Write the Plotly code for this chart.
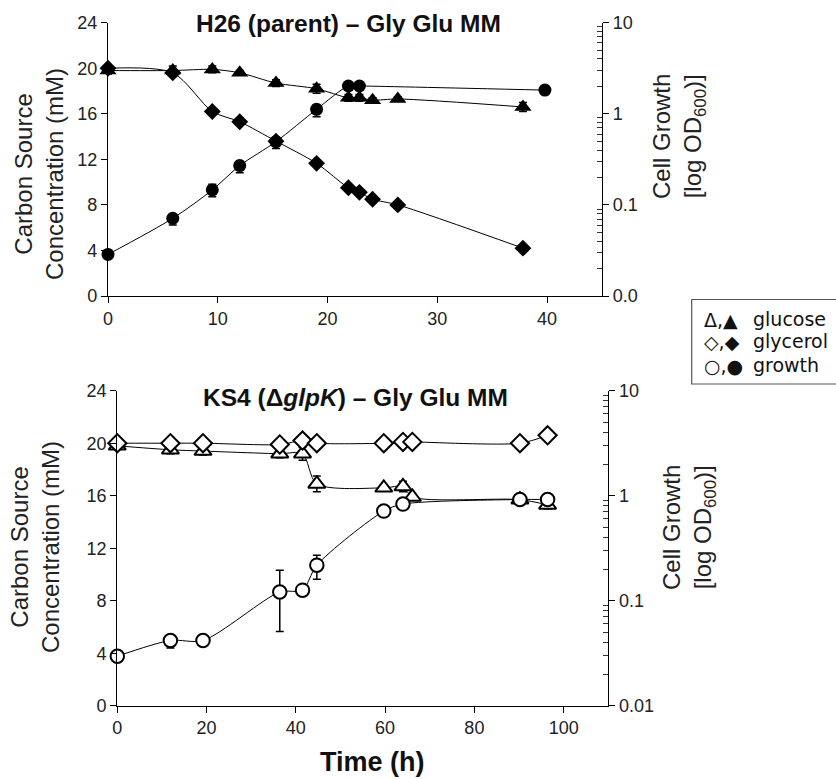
import plotly.graph_objects as go

W, H = 836, 779

# ---------------- data: top panel (H26 parent) ----------------
t_top = [0, 5.9, 9.5, 12.0, 15.3, 19.0, 21.9, 22.9, 24.1, 26.4, 37.8]
glc_top = [19.8, 19.8, 19.9, 19.6, 18.7, 18.2, 17.4, 17.4, 17.2, 17.3, 16.6]
glc_top_err = [0.3, 0.4, 0.3, 0.2, 0.3, 0.4, 0.3, 0.3, 0.2, 0.2, 0.4]
gly_top = [20.0, 19.6, 16.2, 15.3, 13.6, 11.65, 9.5, 9.1, 8.5, 8.0, 4.2]
gly_top_err = [0.2, 0.2, 0.2, 0.2, 0.2, 0.2, 0.2, 0.2, 0.2, 0.2, 0.2]
t_top_od = [0, 5.9, 9.5, 12.0, 15.3, 19.0, 21.9, 22.9, 39.8]
od_top = [0.0286, 0.0713, 0.146, 0.270, 0.494, 1.12, 2.02, 2.02, 1.82]
od_top_plus = [0.002, 0.006, 0.022, 0.03, 0.05, 0.12, 0.1, 0.1, 0.1]
od_top_minus = [0.002, 0.011, 0.023, 0.044, 0.079, 0.19, 0.1, 0.1, 0.1]

# ---------------- data: bottom panel (KS4 glpK) ----------------
t_bot = [0, 11.9, 19.2, 36.4, 41.5, 44.7, 59.7, 64.0, 66.1, 90.2, 96.4]
gly_bot = [20.0, 20.0, 20.0, 19.9, 20.2, 20.0, 20.0, 20.1, 20.1, 20.0, 20.6]
gly_bot_err = [0.1, 0.4, 0.4, 0.2, 0.4, 0.2, 0.1, 0.1, 0.1, 0.2, 0.1]
glc_bot = [19.8, 19.5, 19.4, 19.2, 19.2, 16.9, 16.6, 16.7, 15.9, 15.7, 15.3]
glc_bot_err = [0.1, 0.3, 0.3, 0.3, 0.5, 0.6, 0.2, 0.4, 0.2, 0.3, 0.3]
t_bot_od = [0, 11.9, 19.2, 36.4, 41.5, 44.7, 59.7, 64.0, 90.2, 96.4]
od_bot = [0.0296, 0.0418, 0.0418, 0.121, 0.126, 0.218, 0.714, 0.832, 0.92, 0.92]
od_bot_plus = [0.001, 0.0055, 0.002, 0.074, 0.008, 0.053, 0.02, 0.03, 0.08, 0.08]
od_bot_minus = [0.001, 0.0063, 0.002, 0.070, 0.008, 0.058, 0.02, 0.03, 0.08, 0.08]

top_xticks = [0, 10, 20, 30, 40]
bot_xticks = [0, 20, 40, 60, 80, 100]
conc_ticks = [0, 4, 8, 12, 16, 20, 24]
od_tickvals = [0.01, 0.1, 1, 10]
od_minor_ticks = [0.02, 0.03, 0.04, 0.05, 0.06, 0.07, 0.08, 0.09,
                  0.2, 0.3, 0.4, 0.5, 0.6, 0.7, 0.8, 0.9,
                  2, 3, 4, 5, 6, 7, 8, 9]
top_od_ticktext = ["0.0", "0.1", "1", "10"]
bot_od_ticktext = ["0.01", "0.1", "1", "10"]

legend_symbols = ["Δ,▲", "◇,◆", "○,●"]
legend_words = ["glucose", "glycerol", "growth"]

FONT = "Liberation Sans, Arial, sans-serif"
LINE = dict(color="black", width=1, shape="spline", smoothing=0.8)


def px(x):
    return x / W


def py(y):
    return 1 - y / H


def err(arr, minus=None):
    d = dict(type="data", array=arr, color="black", thickness=1.5, width=4, visible=True)
    if minus is not None:
        d["symmetric"] = False
        d["arrayminus"] = minus
    return d


fig = go.Figure()

# top panel
fig.add_trace(go.Scatter(x=t_top, y=gly_top, xaxis="x", yaxis="y", mode="lines+markers",
                         line=LINE, error_y=err(gly_top_err), cliponaxis=False,
                         marker=dict(symbol="diamond", size=13, color="black")))
fig.add_trace(go.Scatter(x=t_top, y=glc_top, xaxis="x", yaxis="y", mode="lines+markers",
                         line=LINE, error_y=err(glc_top_err), cliponaxis=False,
                         marker=dict(symbol="triangle-up", size=15, color="black")))
fig.add_trace(go.Scatter(x=t_top_od, y=od_top, xaxis="x", yaxis="y2", mode="lines+markers",
                         line=LINE, error_y=err(od_top_plus, od_top_minus), cliponaxis=False,
                         marker=dict(symbol="circle", size=13, color="black")))

# bottom panel
OPEN = dict(color="white", line=dict(color="black", width=2))
fig.add_trace(go.Scatter(x=t_bot, y=glc_bot, xaxis="x2", yaxis="y3", mode="lines+markers",
                         line=LINE, error_y=err(glc_bot_err), cliponaxis=False,
                         marker=dict(symbol="triangle-up", size=15, **OPEN)))
fig.add_trace(go.Scatter(x=t_bot, y=gly_bot, xaxis="x2", yaxis="y3", mode="lines+markers",
                         line=LINE, error_y=err(gly_bot_err), cliponaxis=False,
                         marker=dict(symbol="diamond", size=14, **OPEN)))
fig.add_trace(go.Scatter(x=t_bot_od, y=od_bot, xaxis="x2", yaxis="y4", mode="lines+markers",
                         line=LINE, error_y=err(od_bot_plus, od_bot_minus), cliponaxis=False,
                         marker=dict(symbol="circle", size=13.5, **OPEN)))

ax_common = dict(showgrid=False, zeroline=False, showline=True, linecolor="black", linewidth=1.3,
                 ticks="outside", ticklen=6, tickwidth=1.3, tickcolor="black", automargin=False,
                 tickfont=dict(family=FONT, size=18, color="#222"))

minor_cfg = dict(tickmode="array", tickvals=od_minor_ticks, ticks="inside", ticklen=5,
                 tickwidth=1, tickcolor="#333", showgrid=False)

top_x = [px(108), px(602)]
top_y = [py(296), py(22.7)]
bot_x = [px(117.3), px(608.3)]
bot_y = [py(705.7), py(390.7)]

fig.update_layout(
    width=W, height=H,
    margin=dict(l=0, r=0, t=0, b=0, pad=0, autoexpand=False),
    paper_bgcolor="white", plot_bgcolor="white",
    showlegend=False,
    xaxis=dict(domain=top_x, range=[0, 45], anchor="y", tickvals=top_xticks, **ax_common),
    yaxis=dict(domain=top_y, range=[0, 24], anchor="x", tickvals=conc_ticks, **ax_common),
    yaxis2=dict(overlaying="y", side="right", anchor="x", type="log", range=[-2, 1],
                tickvals=od_tickvals, ticktext=top_od_ticktext, minor=minor_cfg, **ax_common),
    xaxis2=dict(domain=bot_x, range=[0, 110], anchor="y3", tickvals=bot_xticks, **ax_common),
    yaxis3=dict(domain=bot_y, range=[0, 24], anchor="x2", tickvals=conc_ticks, **ax_common),
    yaxis4=dict(overlaying="y3", side="right", anchor="x2", type="log", range=[-2, 1],
                tickvals=od_tickvals, ticktext=bot_od_ticktext, minor=minor_cfg, **ax_common),
)

ann = []


def a(text, x, y, size, angle=0, xanchor="center", align="center", family=FONT, color="#222"):
    ann.append(dict(text=text, x=px(x), y=py(y), xref="paper", yref="paper", showarrow=False,
                    textangle=angle, xanchor=xanchor, yanchor="middle", align=align,
                    font=dict(family=family, size=size, color=color)))


a("<b>H26 (parent) – Gly Glu MM</b>", 348, 24, 24.5, color="#111")
a("<b>KS4 (Δ<i>glpK</i>) – Gly Glu MM</b>", 355, 397, 24.5, color="#111")
a("Carbon Source<br>Concentration (mM)", 39, 174, 24, angle=-90)
a("Carbon Source<br>Concentration (mM)", 35, 547, 24, angle=-90)
a("Cell Growth<br>[log OD<sub>600</sub>)]", 679, 137, 24, angle=-90)
a("Cell Growth<br>[log OD<sub>600</sub>)]", 689, 528, 24, angle=-90)
a("<b>Time (h)</b>", 372, 762, 27, color="#111")

leg_y = [320, 342, 366]
for sym, word, yy in zip(legend_symbols, legend_words, leg_y):
    a(sym, 702, yy, 19, xanchor="left", align="left", family="DejaVu Sans, sans-serif", color="#111")
    a(word, 751, yy - 1, 19, xanchor="left", align="left", family="DejaVu Sans, sans-serif", color="#111")

fig.update_layout(annotations=ann)
fig.add_shape(type="rect", xref="paper", yref="paper", x0=px(691.7), x1=px(845), y0=py(384), y1=py(299.5),
              line=dict(color="#555", width=1.2), fillcolor="rgba(0,0,0,0)")

fig.write_html("out.html", config={"displayModeBar": False},
               post_script="document.body.style.margin='0';document.body.style.overflow='hidden';")
